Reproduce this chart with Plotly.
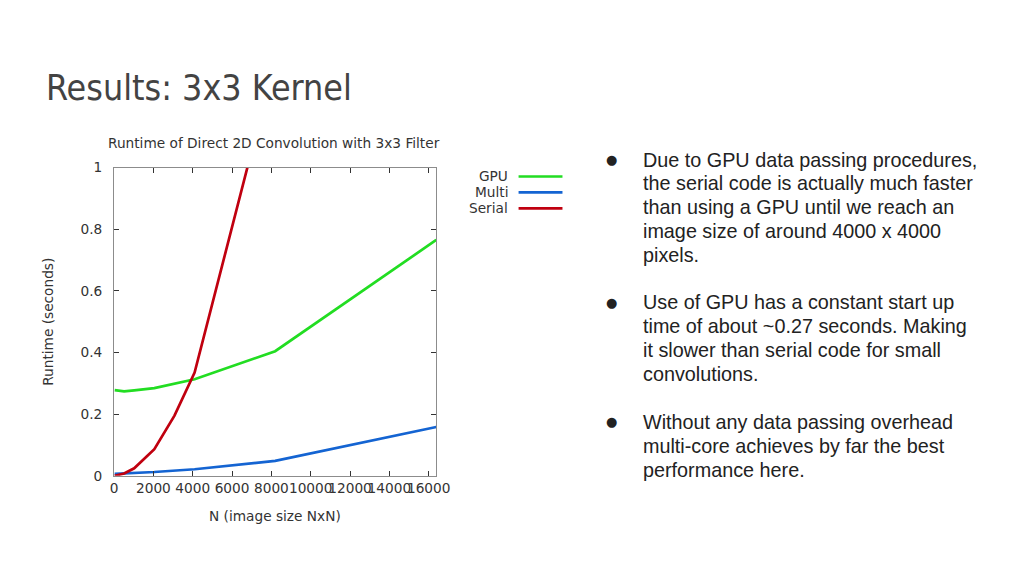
import plotly.graph_objects as go

W, H = 1008, 560
# empirical map from wanted screen pixels to paper fractions (page margin + photo scaling)
SX0, SXW = 11.2, 992.4
SY0, SYH = 14.1, 545.4

# data (N = image side length, runtime in seconds)
n_gpu = [32, 512, 1024, 2048, 4096, 8192, 16384]
gpu = [0.278, 0.274, 0.277, 0.284, 0.313, 0.404, 0.765]

n_multi = [32, 512, 1024, 2048, 4096, 8192, 16384]
multi = [0.006, 0.007, 0.009, 0.012, 0.021, 0.048, 0.158]

n_serial = [32, 512, 1024, 2048, 3072, 4096, 8192]
serial = [0.0, 0.007, 0.024, 0.086, 0.195, 0.335, 1.35]

series_names = ["GPU", "Multi", "Serial"]
series_colors = ["#22dd22", "#1464d2", "#c0000f"]

x_ticks = [0, 2000, 4000, 6000, 8000, 10000, 12000, 14000, 16000]
y_ticks = [0, 0.2, 0.4, 0.6, 0.8, 1]

bullets = [
    ["Due to GPU data passing procedures,", "the serial code is actually much faster",
     "than using a GPU until we reach an", "image size of around 4000 x 4000", "pixels."],
    ["Use of GPU has a constant start up", "time of about ~0.27 seconds. Making",
     "it slower than serial code for small", "convolutions."],
    ["Without any data passing overhead", "multi-core achieves by far the best",
     "performance here."],
]
bullet_first = [158, 301, 421]  # pixel y of first line centre


def px(x):
    return (x - SX0) / SXW


def py(y):
    return 1 - (y - SY0) / SYH


fig = go.Figure()
for xs, ys, name, col in zip([n_gpu, n_multi, n_serial], [gpu, multi, serial],
                             series_names, series_colors):
    fig.add_trace(go.Scatter(x=xs, y=ys, mode="lines", name=name,
                             line=dict(color=col, width=2.7), showlegend=False))

axis_font = dict(family="DejaVu Sans", size=13.7, color="#333333")
fig.update_xaxes(range=[0, 16384], domain=[px(113.5), px(436.5)],
                 tickvals=x_ticks, tickformat="d", tickangle=0,
                 ticks="inside", ticklen=5, tickcolor="#333333",
                 showline=True, linecolor="#8c8c8c", linewidth=1, mirror="ticks",
                 showgrid=False, zeroline=False, tickfont=axis_font)
fig.update_yaxes(range=[0, 1], domain=[py(475), py(166)],
                 tickvals=y_ticks, ticks="inside", ticklen=5, tickcolor="#333333",
                 showline=True, linecolor="#8c8c8c", linewidth=1, mirror="ticks",
                 showgrid=False, zeroline=False, tickfont=axis_font,
                 ticklabelstandoff=8)

ann = []
ann.append(dict(text="Results: 3x3 Kernel", x=px(43), y=py(86), xref="paper", yref="paper",
                xanchor="left", yanchor="middle", showarrow=False,
                font=dict(family="DejaVu Sans Condensed, Liberation Sans Narrow", size=35.5,
                          color="#434343")))
ann.append(dict(text="Runtime of Direct 2D Convolution with 3x3 Filter", x=px(274), y=py(141),
                xref="paper", yref="paper", xanchor="center", yanchor="middle",
                showarrow=False, font=axis_font))
ann.append(dict(text="N (image size NxN)", x=px(275), y=py(515), xref="paper", yref="paper",
                xanchor="center", yanchor="middle", showarrow=False, font=axis_font))
ann.append(dict(text="Runtime (seconds)", x=px(47), y=py(321), xref="paper", yref="paper",
                xanchor="center", yanchor="middle", textangle=-90, showarrow=False,
                font=axis_font))

# legend: label on the left, line sample on the right (gnuplot style)
shapes = []
for i, (name, col) in enumerate(zip(series_names, series_colors)):
    yy = 175 + 16 * i
    ann.append(dict(text=name, x=px(510), y=py(yy), xref="paper", yref="paper",
                    xanchor="right", yanchor="middle", showarrow=False, font=axis_font))
    shapes.append(dict(type="line", xref="paper", yref="paper", x0=px(519), x1=px(563),
                       y0=py(yy), y1=py(yy), line=dict(color=col, width=2.7)))

body_font = dict(family="Liberation Sans", size=19.8, color="#222222")
for lines, y0 in zip(bullets, bullet_first):
    ann.append(dict(text="●", x=px(612), y=py(y0), xref="paper", yref="paper",
                    xanchor="center", yanchor="middle", showarrow=False,
                    font=dict(family="DejaVu Sans", size=13, color="#222222")))
    for j, line in enumerate(lines):
        ann.append(dict(text=line, x=px(642), y=py(y0 + 24 * j), xref="paper", yref="paper",
                        xanchor="left", yanchor="middle", showarrow=False, font=body_font))

fig.update_layout(width=W, height=H, margin=dict(l=0, r=0, t=0, b=0),
                  paper_bgcolor="white", plot_bgcolor="white",
                  annotations=ann, shapes=shapes, showlegend=False)

fig.write_html("out.html")
